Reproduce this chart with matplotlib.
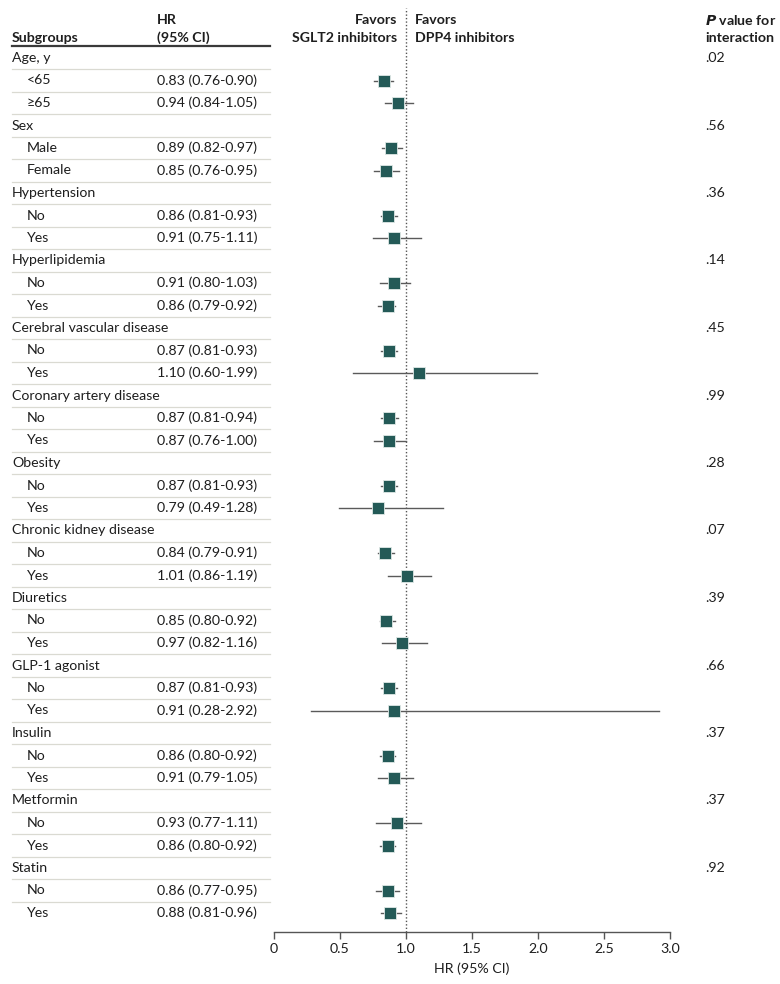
import matplotlib
matplotlib.use("Agg")
import matplotlib.pyplot as plt
from matplotlib.transforms import blended_transform_factory

groups = ["Age, y", "Sex", "Hypertension", "Hyperlipidemia", "Cerebral vascular disease",
          "Coronary artery disease", "Obesity", "Chronic kidney disease", "Diuretics",
          "GLP-1 agonist", "Insulin", "Metformin", "Statin"]
sublabels = [["<65", "≥65"], ["Male", "Female"], ["No", "Yes"], ["No", "Yes"], ["No", "Yes"],
             ["No", "Yes"], ["No", "Yes"], ["No", "Yes"], ["No", "Yes"], ["No", "Yes"],
             ["No", "Yes"], ["No", "Yes"], ["No", "Yes"]]
hr = [[0.83, 0.94], [0.89, 0.85], [0.86, 0.91], [0.91, 0.86], [0.87, 1.10],
      [0.87, 0.87], [0.87, 0.79], [0.84, 1.01], [0.85, 0.97], [0.87, 0.91],
      [0.86, 0.91], [0.93, 0.86], [0.86, 0.88]]
lo = [[0.76, 0.84], [0.82, 0.76], [0.81, 0.75], [0.80, 0.79], [0.81, 0.60],
      [0.81, 0.76], [0.81, 0.49], [0.79, 0.86], [0.80, 0.82], [0.81, 0.28],
      [0.80, 0.79], [0.77, 0.80], [0.77, 0.81]]
hi = [[0.90, 1.05], [0.97, 0.95], [0.93, 1.11], [1.03, 0.92], [0.93, 1.99],
      [0.94, 1.00], [0.93, 1.28], [0.91, 1.19], [0.92, 1.16], [0.93, 2.92],
      [0.92, 1.05], [1.11, 0.92], [0.95, 0.96]]
pvals = [".02", ".56", ".36", ".14", ".45", ".99", ".28", ".07", ".39", ".66", ".37", ".37", ".92"]
xticks = [0, 0.5, 1.0, 1.5, 2.0, 2.5, 3.0]
xticklabels = ["0", "0.5", "1.0", "1.5", "2.0", "2.5", "3.0"]

plt.rcParams['font.family'] = ['Lato', 'DejaVu Sans']
W, H = 780, 984
fig = plt.figure(figsize=(W / 100, H / 100), dpi=100)

row0_px, step_px = 58, 22.5
top_px, bot_px = 8, 932
ax_left, ax_right = 274, 670
ax = fig.add_axes([ax_left / W, 1 - bot_px / H, (ax_right - ax_left) / W, (bot_px - top_px) / H])
ymax = (bot_px - row0_px) / step_px
ymin = (top_px - row0_px) / step_px
ax.set_ylim(ymax, ymin)
ax.set_xlim(0, 3.0)

txtc = "#1e1e1e"
sqc = "#245a57"
fs = 10.2

tr = blended_transform_factory(fig.transFigure, ax.transData)

def fx(px):
    return px / W

def ydat(px):
    return (px - row0_px) / step_px

row = 0
nrows = sum(1 + len(s) for s in sublabels)
for g, name in enumerate(groups):
    ax.text(fx(12), row, name, transform=tr, ha="left", va="center", fontsize=fs, color=txtc, clip_on=False)
    ax.text(fx(705), row, pvals[g], transform=tr, ha="left", va="center", fontsize=fs, color=txtc, clip_on=False)
    ax.plot([fx(12), fx(270)], [row + 0.5, row + 0.5], transform=tr, color="#dadad2", lw=0.9, clip_on=False)
    row += 1
    for k, lab in enumerate(sublabels[g]):
        ax.text(fx(27), row, lab, transform=tr, ha="left", va="center", fontsize=fs, color=txtc, clip_on=False)
        ax.text(fx(157), row, f"{hr[g][k]:.2f} ({lo[g][k]:.2f}-{hi[g][k]:.2f})", transform=tr,
                ha="left", va="center", fontsize=fs, color=txtc, clip_on=False)
        ax.plot([lo[g][k], hi[g][k]], [row, row], color="#5a5a5a", lw=1.0, zorder=2)
        ax.plot([hr[g][k]], [row], marker="s", ms=8.6, color=sqc, mec="#dfe8e6", mew=0.6, zorder=3)
        if row < nrows - 1:
            ax.plot([fx(12), fx(270)], [row + 0.5, row + 0.5], transform=tr, color="#dadad2", lw=0.9, clip_on=False)
        row += 1

ax.axvline(1.0, color="#555555", lw=1.0, ls=(0, (1, 1.5)), zorder=1)

# headers
hdr = dict(transform=tr, fontsize=fs, color=txtc, fontweight="bold", clip_on=False, va="center")
ax.text(fx(12), ydat(38), "Subgroups", ha="left", **hdr)
ax.text(fx(157), ydat(20), "HR", ha="left", **hdr)
ax.text(fx(157), ydat(38), "(95% CI)", ha="left", **hdr)
ax.text(fx(397), ydat(20), "Favors", ha="right", **hdr)
ax.text(fx(397), ydat(38), "SGLT2 inhibitors", ha="right", **hdr)
ax.text(fx(415), ydat(20), "Favors", ha="left", **hdr)
ax.text(fx(415), ydat(38), "DPP4 inhibitors", ha="left", **hdr)
ax.text(fx(705), ydat(20), r"$\bfit{P}$" + " value for", ha="left", **hdr)
ax.text(fx(705), ydat(38), "interaction", ha="left", **hdr)
ax.plot([fx(12), fx(270)], [ydat(45.5), ydat(45.5)], transform=tr, color="#3a3a3a", lw=1.6, clip_on=False)

for s in ["top", "right", "left"]:
    ax.spines[s].set_visible(False)
ax.spines["bottom"].set_color("#555555")
ax.spines["bottom"].set_linewidth(1.0)
ax.set_yticks([])
ax.set_xticks(xticks)
ax.set_xticklabels(xticklabels)
ax.tick_params(axis="x", length=5, width=1.0, color="#555555", labelsize=fs, labelcolor=txtc, pad=3)
ax.set_xlabel("HR (95% CI)", fontsize=fs, color=txtc, labelpad=5)

fig.savefig("out.png", dpi=100)
